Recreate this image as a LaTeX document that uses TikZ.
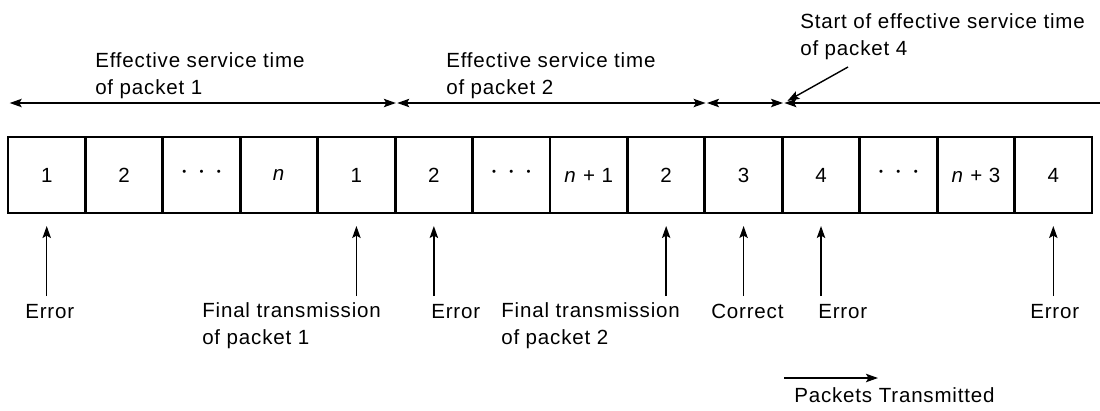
\documentclass[tikz,border=0pt]{standalone}
\usepackage{fontspec}
\setmainfont[LetterSpace=4]{Liberation Sans}
\usetikzlibrary{arrows.meta}
\newcommand\tdot{\raisebox{2.8pt}{\fontsize{8}{8}\selectfont •}}
\newcommand\tdots{\tdot\hspace{9.5pt}\tdot\hspace{9.5pt}\tdot}

\begin{document}
\begin{tikzpicture}[x=0.025cm,y=-0.025cm,
    font=\fontsize{14.6}{19.2}\selectfont,
    pkt/.style={draw,line width=2pt,minimum width=1.936cm,minimum height=1.9cm,inner sep=0pt},
    lbl/.style={anchor=base west,inner sep=0pt,align=left},
    spanar/.style={line width=1pt,{Stealth[length=3mm,width=2.1mm,inset=0.6mm]}-{Stealth[length=3mm,width=2.1mm,inset=0.6mm]},shorten <=0.5pt,shorten >=0.5pt},
    onear/.style={line width=1pt,-{Stealth[length=3mm,width=2.1mm,inset=0.6mm]}}]
    \useasboundingbox (0,0) rectangle (1100,410);
    \foreach \lab [count=\i] in {1,2,\tdots,\textit{n},1,2,\tdots,{\textit{n} + 1},2,3,4,\tdots,{\textit{n} + 3},4}
        \node[pkt] (p\i) at ({8+77.43*(\i-0.5)},175) {\lab};
    \coordinate (lstart) at (9,103);
    \coordinate (lend) at (1100,103);
    \draw[spanar] (lstart) -- (p5.north east |- lstart);
    \draw[spanar] (p5.north east |- lstart) -- (p9.north east |- lstart);
    \draw[spanar] (p9.north east |- lstart) -- (p10.north east |- lstart);
    \draw[onear,shorten >=0.5pt] (lend) -- (p10.north east |- lstart);
    % multi-line labels sit on the baseline of their last line
    \node[lbl] (eff1) at (95,94) {Effective service time\\of packet 1};
    \node[lbl] (eff2) at (446,94) {Effective service time\\of packet 2};
    \node[lbl] (start4) at (800,55) {Start of effective service time\\of packet 4};
    \coordinate (calltail) at (848,67);
    \draw[onear,shorten >=3pt] (calltail) -- (p10.north east |- lstart);
    \coordinate (tipline) at (0,226);
    \coordinate (foot) at (0,296);
    \foreach \k in {1,5,6,9,10,11,14}
        \draw[onear] (p\k.south |- foot) -- (p\k.south |- tipline);
    \node[lbl] (err1) at (25,318) {Error};
    \node[lbl] (fin1) at (202,344) {Final transmission\\of packet 1};
    \node[lbl] (err2) at (431,318) {Error};
    \node[lbl] (fin2) at (501,344) {Final transmission\\of packet 2};
    \node[lbl] (corr) at (711,318) {Correct};
    \node[lbl] (err3) at (818,318) {Error};
    \node[lbl] (err4) at (1030,318) {Error};
    \coordinate (dirA) at (784,378);
    \coordinate (dirB) at (878,378);
    \draw[onear] (dirA) -- (dirB);
    \node[lbl] (ptx) at (794,402) {Packets Transmitted};
\end{tikzpicture}
\end{document}
